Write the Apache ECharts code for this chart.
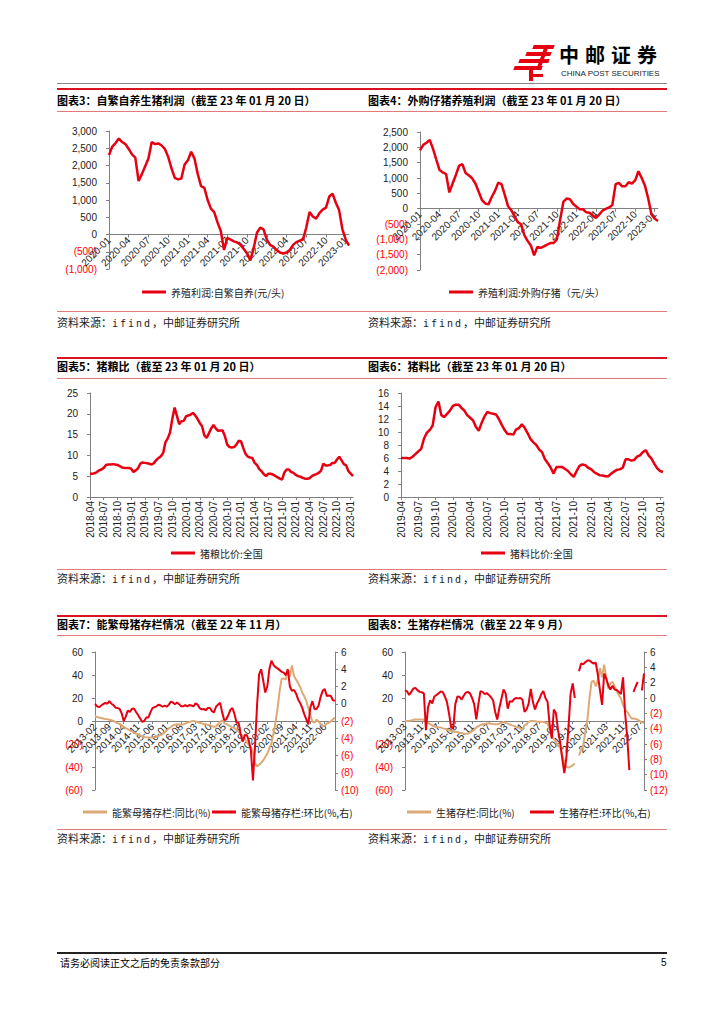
<!DOCTYPE html>
<html><head><meta charset="utf-8">
<script src="https://cdn.jsdelivr.net/npm/echarts@6/dist/echarts.min.js"></script>
<style>
html,body{margin:0;padding:0;background:#fff;}
#page{position:relative;width:724px;height:1024px;overflow:hidden;font-family:"Noto Sans CJK SC","Liberation Sans",sans-serif;}
#chart{position:absolute;left:0;top:0;width:724px;height:1024px;}
.t{position:absolute;white-space:nowrap;color:#000;}
.title{font-size:11px;font-weight:bold;line-height:14px;}
.src{font-size:11px;line-height:14px;color:#222;}
.src b{font-weight:normal;letter-spacing:2px;font-family:"DejaVu Sans Mono","Liberation Mono",monospace;font-size:10px;}
.hl{position:absolute;left:57px;width:610px;}
.pink{height:1px;background:#E27A7A;}
.redb{height:2px;background:#D9141E;}
.lg{position:absolute;background:#E60012;}
</style></head><body>
<div id="page">
<div id="chart"></div>

<!-- header logo -->
<div class="lg" style="left:533px;top:45px;width:21px;height:4px;transform:skewX(-20deg)"></div>
<div class="lg" style="left:526px;top:52px;width:25px;height:4px;transform:skewX(-20deg)"></div>
<div class="lg" style="left:519px;top:59px;width:30px;height:4px;transform:skewX(-20deg)"></div>
<div class="lg" style="left:514px;top:66px;width:28px;height:4px;transform:skewX(-20deg)"></div>
<div class="lg" style="left:540px;top:49px;width:4px;height:20px;transform:skewX(-20deg)"></div>
<div class="lg" style="left:529px;top:70px;width:4px;height:11px;"></div>
<div class="lg" style="left:533px;top:74px;width:10px;height:3px;"></div>
<div class="t" style="left:559px;top:43px;font-size:20px;font-weight:bold;letter-spacing:6px;line-height:24px;">中邮证券</div>
<div class="t" style="left:561px;top:69px;font-size:8px;line-height:10px;font-family:'Liberation Sans',Arial,sans-serif;color:#222;">CHINA POST SECURITIES</div>
<div class="hl" style="top:83px;height:1px;background:#8a8a8a;"></div>
<div class="hl redb" style="top:88px;"></div>

<!-- row 1 -->
<div class="t title" style="left:57px;top:93px;">图表3：自繁自养生猪利润（截至 23 年 01 月 20 日）</div>
<div class="t title" style="left:368px;top:93px;">图表4：外购仔猪养殖利润（截至 23 年 01 月 20 日）</div>
<div class="hl pink" style="top:111px;"></div>
<div class="hl pink" style="top:311px;"></div>
<div class="t src" style="left:57px;top:315px;">资料来源：<b>ifind</b>，中邮证券研究所</div>
<div class="t src" style="left:368px;top:315px;">资料来源：<b>ifind</b>，中邮证券研究所</div>

<!-- row 2 -->
<div class="hl redb" style="top:357px;"></div>
<div class="t title" style="left:57px;top:359px;">图表5：猪粮比（截至 23 年 01 月 20 日）</div>
<div class="t title" style="left:368px;top:359px;">图表6：猪料比（截至 23 年 01 月 20 日）</div>
<div class="hl pink" style="top:378px;"></div>
<div class="hl pink" style="top:569px;"></div>
<div class="t src" style="left:57px;top:571px;">资料来源：<b>ifind</b>，中邮证券研究所</div>
<div class="t src" style="left:368px;top:571px;">资料来源：<b>ifind</b>，中邮证券研究所</div>

<!-- row 3 -->
<div class="hl redb" style="top:615px;"></div>
<div class="t title" style="left:57px;top:617px;">图表7：能繁母猪存栏情况（截至 22 年 11 月）</div>
<div class="t title" style="left:368px;top:617px;">图表8：生猪存栏情况（截至 22 年 9 月）</div>
<div class="hl pink" style="top:635px;"></div>
<div class="hl pink" style="top:829px;"></div>
<div class="t src" style="left:57px;top:831px;">资料来源：<b>ifind</b>，中邮证券研究所</div>
<div class="t src" style="left:368px;top:831px;">资料来源：<b>ifind</b>，中邮证券研究所</div>

<!-- footer -->
<div class="hl" style="top:952px;height:2px;background:#222;"></div>
<div class="t" style="left:60px;top:956px;font-size:10px;line-height:14px;">请务必阅读正文之后的免责条款部分</div>
<div class="t" style="left:661px;top:956px;font-size:10px;line-height:14px;font-family:'Liberation Sans',Arial,sans-serif;">5</div>
</div>

<script>
// ---------- data ----------
// Chart 3: 养殖利润:自繁自养 (元/头), half-monthly 2020-01 .. 2023-01
const c3Start = '2020-01', c3End = '2023-01';
const c3Values = [2300,2550,2650,2780,2680,2620,2480,2320,2230,1550,
  1750,1980,2200,2680,2620,2640,2580,2480,2250,1920,
  1640,1600,1620,2030,2150,2400,2200,1750,1400,1350,
  1000,750,650,350,100,-450,-100,-150,-200,-230,
  -300,-420,-550,-750,-400,50,200,150,-150,-300,
  -350,-450,-520,-550,-520,-450,-300,-220,-180,-150,
  200,650,520,460,620,720,780,1100,1180,920,
  700,150,-150,-320];
// Chart 4: 养殖利润:外购仔猪 (元/头)
const c4Start = '2020-01', c4End = '2023-01';
const c4Values = [1900,2080,2150,2240,1950,1600,1260,1180,1130,530,
  820,1100,1400,1450,1160,1080,990,820,550,280,
  170,140,380,580,850,800,450,80,-50,-250,
  -440,-510,-860,-1050,-1200,-1520,-1250,-1280,-1230,-1170,
  -1120,-1120,-1000,-350,230,330,310,150,60,-20,
  -20,-120,-130,-230,-300,-190,-60,-10,40,120,
  800,840,730,730,860,820,920,1220,1000,750,
  330,-190,-330,-400];
// Chart 5: 猪粮比价:全国, half-monthly 2018-04 .. 2023-01
const c5Start = '2018-04', c5End = '2023-01';
const c5Values = [5.6,5.6,5.7,6.0,6.4,6.6,7.0,7.7,7.8,7.8,
  7.9,7.8,7.7,7.4,7.1,7.0,7.0,7.0,6.8,6.0,
  6.4,6.9,8.0,8.3,8.2,8.1,8.0,7.8,8.2,8.9,
  9.4,9.8,10.6,13.2,14.1,15.5,18.8,21.5,19.5,17.5,
  18.2,18.3,19.4,19.6,19.8,20.2,19.6,18.8,17.8,17.0,
  14.8,14.2,15.3,16.5,17.3,16.5,15.9,16.0,16.0,14.6,
  12.6,12.0,11.9,12.0,12.6,13.5,13.4,11.8,10.4,9.7,
  9.5,9.4,8.2,7.7,6.7,6.2,5.5,5.0,5.6,5.6,
  5.4,5.1,4.7,4.4,4.2,5.9,6.6,6.6,6.0,5.8,
  5.3,5.0,4.9,4.6,4.4,4.4,4.5,5.0,5.3,5.5,
  5.8,6.3,8.0,7.6,7.6,7.7,8.2,8.2,9.0,9.7,
  8.8,7.9,7.6,6.2,5.6,5.0];
// Chart 6: 猪料比价:全国, half-monthly 2019-04 .. 2023-01
const c6Start = '2019-04', c6End = '2023-01';
const c6Values = [6.0,6.0,6.0,5.9,6.2,6.6,7.0,7.4,9.0,9.9,
  10.3,11.0,13.8,14.7,12.6,12.3,12.8,13.3,14.0,14.2,
  14.2,13.7,13.3,12.6,12.2,11.8,10.8,10.2,11.4,12.4,
  13.1,12.9,12.8,12.7,12.0,11.1,10.3,9.7,9.7,9.6,
  10.4,10.6,11.2,10.6,9.8,8.9,8.4,8.0,7.3,6.9,
  5.8,5.2,4.5,3.6,4.6,4.6,4.6,4.3,4.0,3.5,
  3.1,4.0,4.8,5.0,4.9,4.5,4.3,3.85,3.6,3.35,
  3.3,3.2,3.2,3.6,3.9,4.2,4.25,4.5,5.8,5.8,
  5.6,5.7,6.2,6.4,6.9,7.2,6.4,5.9,5.1,4.4,
  4.0,3.85];
// Chart 7: 能繁母猪存栏, monthly 2013-02 .. 2022-11
const c7Start = '2013-02', c7End = '2022-11';
const c7Yoy = [4.2,3.5,3.0,2.6,2.2,1.8,1.5,1.1,0.6,0.1,
  -0.9,-1.9,-2.6,-3.8,-5.2,-6.2,-7.1,-8.1,-8.9,-9.8,
  -10.9,-11.6,-12.5,-13.4,-13.8,-14.1,-14.3,-14.3,-14.3,-14.1,
  -13.8,-13.0,-12.2,-11.2,-9.8,-8.0,-6.5,-5.2,-3.8,-3.3,
  -3.0,-3.0,-3.0,-3.0,-2.3,-1.4,-0.9,-0.3,0.1,-0.4,
  -0.9,-1.5,-2.1,-2.7,-2.9,-3.2,-3.5,-4.5,-5.1,-4.7,
  -2.8,-0.7,0.5,-1.8,-2.5,-3.5,-4.6,-5.5,-6.3,-7.7,
  -9.2,-11.2,-13.0,-15.5,-18.0,-21.0,-22.8,-27.0,-36.9,-39.5,
  -38.0,-36.3,-34.3,-31.3,-28.3,-23.8,-19.5,-10.8,-1.0,11.0,
  26.0,36.9,37.0,36.0,45.0,38.5,48.4,39.0,36.0,33.0,
  29.6,25.0,21.5,17.5,11.0,5.0,-0.5,-1.5,1.2,-0.5,
  -2.6,-4.5,-4.0,-2.2,-1.5,-0.4,1.5,3.0];
const c7Mom = [0.0,-0.3,-0.4,-0.2,-0.05,0.1,0.0,0.3,0.0,-0.15,
  -0.45,-0.5,-0.6,-1.1,-2.0,-1.5,-0.8,-0.95,-0.6,-0.55,
  -0.95,-1.3,-1.7,-2.1,-2.0,-1.6,-1.6,-1.0,-0.5,-0.4,
  -0.3,-0.1,-0.2,-0.35,-0.2,-0.35,-0.1,0.25,0.15,-0.05,
  0.15,-0.05,-0.3,-0.3,-0.15,-0.3,-0.15,-0.2,-0.3,0.05,
  -0.1,-0.5,-0.65,-0.6,-0.75,-0.5,-0.5,-0.85,-1.0,-0.35,
  -0.1,0.1,-1.0,-1.9,-1.8,-1.3,-0.7,-0.5,-1.2,-2.2,
  -2.2,-3.5,-4.4,-3.7,-3.6,-4.3,-5.4,-8.9,-5.0,-0.2,
  3.4,4.0,2.7,1.3,2.0,4.0,5.0,4.5,4.25,4.1,
  3.9,3.7,3.6,3.3,4.0,2.0,1.5,1.6,1.2,0.5,
  0.1,-0.45,-1.2,-1.8,-2.4,-0.4,0.3,-0.6,-0.6,-0.2,
  0.8,1.5,1.7,0.9,0.95,0.9,0.4,0.35];
// Chart 8: 生猪存栏, monthly 2013-03 .. 2022-09
const c8Start = '2013-03', c8End = '2022-09';
const c8Yoy = [0.1,0.1,0.1,0.5,1.0,1.3,1.3,1.3,1.3,1.0,
  0.5,-1.6,-2.8,-3.8,-4.8,-5.3,-5.5,-5.6,-6.4,-6.8,
  -7.2,-8.2,-8.8,-9.4,-9.4,-9.6,-10.2,-10.5,-10.9,-11.2,
  -11.0,-10.0,-9.0,-7.5,-5.6,-4.5,-3.5,-2.9,-2.5,-2.2,
  -2.2,-2.4,-2.7,-2.9,-2.9,-2.4,-1.5,-0.9,-1.6,-2.3,
  -3.0,-3.8,-4.2,-5.1,-5.6,-6.6,-7.2,-3.6,-2.8,-0.8,
  0.1,0.1,-0.2,-0.6,-0.7,-0.7,-0.8,-1.5,-2.2,-7.5,
  -11.5,-15.8,-18.0,-21.5,-22.8,-29.5,-36.0,-39.8,-40.5,-39.6,
  -38.5,-37.0,null,-30.0,-25.0,-21.0,-10.0,1.0,20.0,34.0,
  35.0,30.0,36.0,46.0,38.0,49.0,38.0,28.0,33.0,34.0,
  30.0,26.0,22.4,19.5,14.0,10.0,8.0,5.0,2.2,2.2,
  1.8,1.2,0.0,-1.2,-1.6];
const c8Mom = [1.0,0.85,0.4,0.8,1.25,1.3,1.0,0.8,0.75,0.6,
  -4.2,-1.2,-0.3,-0.7,0.2,0.4,0.6,0.85,0.8,0.2,
  -0.5,-2.0,-3.8,-4.0,-0.8,0.2,0.15,-0.2,0.3,0.7,
  0.8,0.6,0.0,-0.8,-2.8,-0.8,0.9,0.8,0.5,0.65,
  0.4,0.1,-0.3,-1.8,-2.8,-1.3,-0.1,1.1,0.6,-1.4,
  -0.4,-0.5,-0.15,0.0,-0.05,0.0,-0.2,-1.8,-1.5,-0.7,
  1.2,-0.5,-1.5,-0.7,-0.2,0.5,0.9,0.0,-0.5,-3.5,
  -5.3,-1.5,-2.0,-4.2,-5.8,-7.9,-9.8,-7.7,-3.7,0.6,
  1.9,0.0,null,3.5,4.5,4.4,4.65,4.9,4.9,4.65,
  4.5,4.6,3.0,1.0,-0.9,3.2,2.5,1.6,1.1,1.6,
  1.1,1.05,0.8,0.5,2.7,-2.0,-5.1,-9.4,null,0.8,
  1.5,2.1,null,1.0,3.2];

// ---------- helpers ----------
function halfMonths(s, e) {
  const out = []; let [y, m] = s.split('-').map(Number); const [ey, em] = e.split('-').map(Number);
  while (y < ey || (y === ey && m <= em)) {
    const mm = String(m).padStart(2, '0'); out.push(y + '-' + mm + '-01', y + '-' + mm + '-16');
    m++; if (m > 12) { m = 1; y++; }
  }
  return out;
}
function months(s, e) {
  const out = []; let [y, m] = s.split('-').map(Number); const [ey, em] = e.split('-').map(Number);
  while (y < ey || (y === ey && m <= em)) {
    out.push(y + '-' + String(m).padStart(2, '0')); m++; if (m > 12) { m = 1; y++; }
  }
  return out;
}
const c3Cats = halfMonths(c3Start, c3End), c4Cats = halfMonths(c4Start, c4End);
const c5Cats = halfMonths(c5Start, c5End), c6Cats = halfMonths(c6Start, c6End);
const c7Cats = months(c7Start, c7End), c8Cats = months(c8Start, c8End);

const RED = '#E60012', TAN = '#DDAA77', AX = '#808080', LBL = '#222';
const NUMF = "'Liberation Sans', Arial, sans-serif";
const CJKF = "'Noto Sans CJK SC', sans-serif";
const quarterStart = (i, v) => v.slice(8) === '01' && ['01', '04', '07', '10'].indexOf(v.slice(5, 7)) >= 0;
function fmtNum(v) {
  const a = String(Math.abs(v)).replace(/\B(?=(\d{3})+(?!\d))/g, ',');
  return v < 0 ? '{n|(' + a + ')}' : '{p|' + a + '}';
}
const rich = { n: { color: '#FF0000', fontSize: 10, fontFamily: NUMF }, p: { color: LBL, fontSize: 10, fontFamily: NUMF } };

// grids: [left, top, width, height]
const grids = [[109, 131, 240, 138], [420, 132, 238, 138], [90, 393, 263, 104], [401, 393, 262, 104], [95, 652, 240, 138], [405, 652, 239, 138]];
// y ranges [min,max] of the axis the category axis sits on at zero
const zeroRanges = [[-1000, 3000], [-2000, 2500], [0, 25], [0, 16], [-60, 60], [-60, 60]];
// offset (negative = upward) that moves a bottom axis from the grid bottom to the value 0
const zeroOffset = gi => { const [mn, mx] = zeroRanges[gi]; return -grids[gi][3] * (0 - mn) / (mx - mn); };

function xCat(grid, data, opt) {
  return Object.assign({
    type: 'category', gridIndex: grid, data: data, boundaryGap: false, position: 'bottom', offset: zeroOffset(grid),
    axisLine: { show: true, onZero: false, lineStyle: { color: AX, width: 1 } },
    axisTick: { show: true, length: 3, lineStyle: { color: AX } },
    axisLabel: { fontSize: 10, color: LBL, fontFamily: NUMF, margin: 4 },
    splitLine: { show: false }
  }, opt);
}
function yVal(grid, min, max, interval, pos, margin) {
  return {
    type: 'value', gridIndex: grid, min: min, max: max, interval: interval, position: pos || 'left',
    axisLine: { show: true, onZero: false, lineStyle: { color: AX, width: 1 } },
    axisTick: { show: true, length: 3, lineStyle: { color: AX } },
    axisLabel: { formatter: fmtNum, rich: rich, margin: margin || 12 },
    splitLine: { show: false }
  };
}
function line(name, xi, yi, data, color, w) {
  return { type: 'line', name: name, xAxisIndex: xi, yAxisIndex: yi, data: data, symbol: 'none',
    lineStyle: { color: color, width: w }, itemStyle: { color: color }, connectNulls: false, animation: false };
}
function leg(name, left, top) {
  return { left: left, top: top, padding: 0, itemWidth: 24, itemHeight: 3, icon: 'rect', itemGap: 5,
    data: [name], textStyle: { fontSize: 10, color: LBL, fontFamily: CJKF, lineHeight: 14 } };
}
const g = a => ({ left: a[0], top: a[1], width: a[2], height: a[3], containLabel: false, outerBoundsMode: 'none' });

const N3 = '养殖利润:自繁自养(元/头)', N4 = '养殖利润:外购仔猪（元/头）', N5 = '猪粮比价:全国', N6 = '猪料比价:全国';
const N7a = '能繁母猪存栏:同比(%)', N7b = '能繁母猪存栏:环比(%,右)', N8a = '生猪存栏:同比(%)', N8b = '生猪存栏:环比(%,右)';

const rot45q = { rotate: 45, interval: quarterStart, formatter: v => v.slice(0, 7), fontSize: 10, color: LBL, fontFamily: NUMF, margin: 4 };
const rot90q = { rotate: 90, interval: quarterStart, formatter: v => v.slice(0, 7), fontSize: 10, color: LBL, fontFamily: NUMF, margin: 4 };
const qTick = { show: true, length: 3, interval: quarterStart, lineStyle: { color: AX } };

const option = {
  animation: false,
  grid: grids.map(g),
  xAxis: [
    xCat(0, c3Cats, { axisLabel: rot45q, axisTick: qTick }),
    xCat(1, c4Cats, { axisLabel: rot45q, axisTick: qTick }),
    xCat(2, c5Cats, { axisLabel: rot90q, axisTick: qTick }),
    xCat(3, c6Cats, { axisLabel: rot90q, axisTick: qTick }),
    xCat(4, c7Cats, { axisLabel: { rotate: 45, interval: 6, fontSize: 10, color: LBL, fontFamily: NUMF, margin: 4 },
      axisTick: { show: true, length: 3, interval: 6, lineStyle: { color: AX } } }),
    xCat(5, c8Cats, { axisLabel: { rotate: 45, interval: 7, fontSize: 10, color: LBL, fontFamily: NUMF, margin: 4 },
      axisTick: { show: true, length: 3, interval: 7, lineStyle: { color: AX } } })
  ],
  yAxis: [
    yVal(0, -1000, 3000, 500), yVal(1, -2000, 2500, 500), yVal(2, 0, 25, 5), yVal(3, 0, 16, 2),
    yVal(4, -60, 60, 20), yVal(4, -10, 6, 2, 'right', 6),
    yVal(5, -60, 60, 20), yVal(5, -12, 6, 2, 'right', 6)
  ],
  legend: [leg(N3, 142, 285), leg(N4, 449, 285), leg(N5, 171, 546), leg(N6, 481, 546),
    leg(N7a, 83, 805), leg(N7b, 212, 805), leg(N8a, 407, 805), leg(N8b, 530, 805)],
  series: [
    line(N3, 0, 0, c3Values, RED, 2.5),
    line(N4, 1, 1, c4Values, RED, 2.5),
    line(N5, 2, 2, c5Values, RED, 2.5),
    line(N6, 3, 3, c6Values, RED, 2.5),
    line(N7a, 4, 4, c7Yoy, TAN, 2),
    line(N7b, 4, 5, c7Mom, RED, 2),
    line(N8a, 5, 6, c8Yoy, TAN, 2),
    line(N8b, 5, 7, c8Mom, RED, 2)
  ]
};
const chart = echarts.init(document.getElementById('chart'), null, { renderer: 'svg', width: 724, height: 1024 });
chart.setOption(option);
</script>
</body></html>
